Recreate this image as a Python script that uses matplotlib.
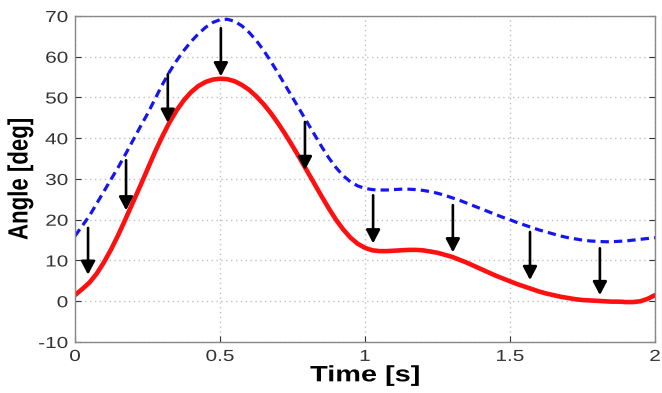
import matplotlib
matplotlib.use("Agg")
import matplotlib.pyplot as plt
from matplotlib.patheffects import AbstractPathEffect
from matplotlib.transforms import Affine2D

# Time samples (s)
t = [0.000, 0.025, 0.050, 0.075, 0.100, 0.125, 0.150, 0.175, 0.200, 0.225,
     0.250, 0.275, 0.300, 0.325, 0.350, 0.375, 0.400, 0.425, 0.450, 0.475,
     0.500, 0.525, 0.550, 0.575, 0.600, 0.625, 0.650, 0.675, 0.700, 0.725,
     0.750, 0.775, 0.800, 0.825, 0.850, 0.875, 0.900, 0.925, 0.950, 0.975,
     1.000, 1.025, 1.050, 1.075, 1.100, 1.125, 1.150, 1.175, 1.200, 1.225,
     1.250, 1.275, 1.300, 1.325, 1.350, 1.375, 1.400, 1.425, 1.450, 1.475,
     1.500, 1.525, 1.550, 1.575, 1.600, 1.625, 1.650, 1.675, 1.700, 1.725,
     1.750, 1.775, 1.800, 1.825, 1.850, 1.875, 1.900, 1.925, 1.950, 1.975,
     2.000]

# Blue dashed curve (deg)
blue = [16.0, 18.5, 21.0, 24.0, 27.0, 30.0, 33.0, 36.2, 39.5, 42.8,
        46.0, 49.5, 53.0, 56.2, 59.0, 61.5, 63.7, 65.6, 67.2, 68.4,
        69.1, 69.2, 68.7, 67.6, 66.0, 64.0, 61.6, 58.9, 56.0, 53.0,
        50.0, 47.0, 44.0, 41.0, 38.0, 35.2, 32.8, 30.8, 29.3, 28.3,
        27.7, 27.4, 27.3, 27.3, 27.4, 27.5, 27.5, 27.4, 27.2, 26.9,
        26.5, 26.0, 25.4, 24.8, 24.1, 23.4, 22.7, 22.0, 21.3, 20.6,
        20.0, 19.3, 18.7, 18.1, 17.5, 17.0, 16.5, 16.0, 15.6, 15.3,
        15.0, 14.8, 14.7, 14.6, 14.6, 14.7, 14.8, 15.0, 15.2, 15.4,
        15.6]

# Red solid curve (deg)
red = [1.5, 3.0, 4.6, 6.8, 9.6, 12.8, 16.4, 20.3, 24.3, 28.3,
       32.4, 36.5, 40.3, 43.8, 46.8, 49.3, 51.3, 52.8, 53.8, 54.4,
       54.6, 54.5, 54.0, 53.1, 51.9, 50.3, 48.4, 46.2, 43.7, 41.0,
       38.1, 35.1, 32.0, 28.9, 25.8, 22.8, 20.0, 17.6, 15.6, 14.1,
       13.1, 12.5, 12.3, 12.3, 12.4, 12.5, 12.6, 12.6, 12.5, 12.2,
       11.9, 11.4, 10.9, 10.2, 9.5, 8.7, 7.9, 7.1, 6.3, 5.6,
       4.9, 4.2, 3.6, 3.0, 2.4, 1.9, 1.5, 1.1, 0.8, 0.5,
       0.3, 0.2, 0.1, 0.0, -0.1, -0.1, -0.2, -0.2, 0.0, 0.6,
       1.5]

# Arrows: x position, start (top) value, tip value
arrow_x = [0.045, 0.176, 0.32, 0.503, 0.793, 1.028, 1.303, 1.569, 1.81]
arrow_top = [18, 34.6, 55.7, 67, 44, 26, 23.6, 17, 13]
arrow_tip = [6.5, 22.3, 43.8, 55.2, 32.2, 14.2, 12.0, 5.2, 1.5]

xticks = [0, 0.5, 1, 1.5, 2]
xticklabels = ["0", "0.5", "1", "1.5", "2"]
yticks = [-10, 0, 10, 20, 30, 40, 50, 60, 70]


class HStretch(AbstractPathEffect):
    """Render text stretched horizontally (the reference image is widened)."""
    def __init__(self, sx=1.3, anchor='center'):
        super().__init__()
        self.sx = sx
        self.anchor = anchor

    def draw_path(self, renderer, gc, tpath, affine, rgbFace=None):
        ext = tpath.transformed(affine).get_extents()
        if self.anchor == 'right':
            cx = ext.x1
        elif self.anchor == 'left':
            cx = ext.x0
        else:
            cx = 0.5 * (ext.x0 + ext.x1)
        tr = affine + Affine2D().translate(-cx, 0).scale(self.sx, 1).translate(cx, 0)
        renderer.draw_path(gc, tpath, tr, rgbFace)


plt.rcParams['font.family'] = ['Liberation Sans', 'DejaVu Sans']
plt.rcParams['axes.unicode_minus'] = False

fig = plt.figure(figsize=(6.62, 3.93), dpi=100)
ax = fig.add_axes([0.1133, 0.1298, 0.8761, 0.8295])

ax.plot(t, blue, color='#1515f0', lw=2.3, ls=(0, (2.6, 1.6)))
ax.plot(t, red, color='#ff1010', lw=3.3, solid_capstyle='round')

for xa, y0, y1 in zip(arrow_x, arrow_top, arrow_tip):
    ax.annotate('', xy=(xa, y1), xytext=(xa, y0),
                arrowprops=dict(arrowstyle='-|>,head_length=0.8,head_width=0.42',
                                color='black', lw=1.9, shrinkA=0, shrinkB=0))

ax.set_xlim(0, 2)
ax.set_ylim(-10, 70)
ax.set_xticks(xticks)
ax.set_xticklabels(xticklabels)
ax.set_yticks(yticks)
ax.grid(True, color='#c0c0c0', ls=(0, (1, 2.5)), lw=1.0)
ax.tick_params(direction='in', length=4, labelsize=11.5, colors='#333333',
               top=False, right=True, pad=5)
for s in ax.spines.values():
    s.set_color('#888888')
    s.set_linewidth(1.0)

for lab in ax.get_xticklabels():
    lab.set_path_effects([HStretch(1.3, 'center')])
for lab in ax.get_yticklabels():
    lab.set_path_effects([HStretch(1.3, 'right')])

xl = ax.set_xlabel('Time [s]', fontsize=16, fontweight='bold', labelpad=1)
yl = ax.set_ylabel('Angle [deg]', fontsize=16, fontweight='bold', labelpad=10)
xl.set_path_effects([HStretch(1.3, 'center')])
yl.set_path_effects([HStretch(1.25, 'center')])

fig.savefig('out.png', dpi=100)
